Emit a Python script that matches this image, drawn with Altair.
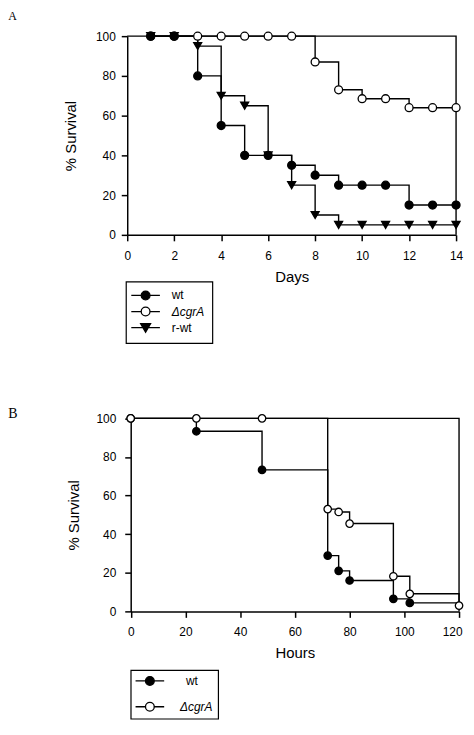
import altair as alt
import pandas as pd

# ---------------- Panel A (days) ----------------
A_days = [1, 2, 3, 4, 5, 6, 7, 8, 9, 10, 11, 12, 13, 14]
A_wt = [100, 100, 80, 55, 40, 40, 35, 30, 25, 25, 25, 15, 15, 15]
A_cgrA = [100, 100, 100, 100, 100, 100, 100, 87, 73, 68.5, 68.5, 64, 64, 64]
A_rwt = [100, 100, 95, 70, 65, 40, 25, 10, 5, 5, 5, 5, 5, 5]
A_series = ["wt", "ΔcgrA", "r-wt"]
A_xticks = [0, 2, 4, 6, 8, 10, 12, 14]
A_frame_x = [0, 14, 14]
A_frame_y = [100, 100, 0]

# ---------------- Panel B (hours) ----------------
B_wt_h = [0, 24, 48, 72, 76, 80, 96, 102]
B_wt = [100, 93.3, 73.3, 28.9, 21, 16, 6.5, 4.4]
B_cgrA_h = [0, 24, 48, 72, 76, 80, 96, 102, 120]
B_cgrA = [100, 100, 100, 53, 51.5, 45.5, 18.2, 9.1, 3]
B_end = 120
B_series = ["wt", "ΔcgrA"]
B_xticks = [0, 20, 40, 60, 80, 100, 120]
B_frame_x = [0, 120, 120]
B_frame_y = [100, 100, 0]

Y_ticks = [0, 20, 40, 60, 80, 100]

FONT = "Liberation Sans"
SERIF = "Liberation Serif"

# legend symbols: a line with the marker on it
CIRC = "M-3.6,0L-1.1,0M1.1,0L3.6,0M1.1,0A1.1,1.1,0,1,1,-1.1,0A1.1,1.1,0,1,1,1.1,0Z"
TRI = "M-3.6,0L3.6,0M-1.25,-1L1.25,-1L0,1.15Z"

# layout (pixels) of the two panels inside one plotting area
W = 331
H_TOTAL = 579
A_YR = [200, 0]
B_YR = [579, 384.7]
A_XR = [0, 331]
B_XR = [3.5, 334]

ptsA = pd.concat([
    pd.DataFrame({"x": A_days, "y": A_cgrA, "series": "ΔcgrA"}),
    pd.DataFrame({"x": A_days, "y": A_wt, "series": "wt"}),
    pd.DataFrame({"x": A_days, "y": A_rwt, "series": "r-wt"}),
], ignore_index=True)
linesA = ptsA.copy()
frameA = pd.DataFrame({"x": A_frame_x, "y": A_frame_y, "i": list(range(len(A_frame_x)))})

ptsB = pd.concat([
    pd.DataFrame({"x": B_wt_h, "y": B_wt, "series": "wt"}),
    pd.DataFrame({"x": B_cgrA_h, "y": B_cgrA, "series": "ΔcgrA"}),
], ignore_index=True)
linesB = pd.concat([
    ptsB,
    pd.DataFrame({"x": [B_end], "y": [B_wt[-1]], "series": ["wt"]}),
], ignore_index=True)
frameB = pd.DataFrame({"x": B_frame_x, "y": B_frame_y, "i": list(range(len(B_frame_x)))})

ITALIC = alt.ExprRef("datum.label === 'ΔcgrA' ? 'italic' : 'normal'")


def panel(pts, lines, frame, xdom, xrange, yrange, xticks, xtitle, xoff, yoff,
          xlaboff, series, shapes, legshapes, fills, legend, ypad, ytpad, size,
          label, lfs, lx, ly):
    X = alt.X("x:Q", scale=alt.Scale(domain=xdom, range=xrange, nice=False, zero=False),
              axis=alt.Axis(values=xticks, format="d", title=xtitle, orient="bottom",
                            offset=xoff, labelPadding=9.5, titlePadding=8,
                            labelFlush=False, labelOffset=xlaboff))
    Y = alt.Y("y:Q", scale=alt.Scale(domain=[0, 100], range=yrange, nice=False),
              axis=alt.Axis(values=Y_ticks, format="d", title="% Survival",
                            orient="left", offset=yoff, labelPadding=ypad,
                            titlePadding=ytpad))
    fr = alt.Chart(frame).mark_line(color="black", strokeWidth=1.4).encode(
        x=X, y=Y, order="i:Q")
    ln = alt.Chart(lines).mark_line(interpolate="step-after", color="black",
                                    strokeWidth=1.4).encode(
        x=X, y=Y, detail="series:N")
    pt = alt.Chart(pts).mark_point(filled=True, size=size, stroke="black",
                                   strokeWidth=1.3, opacity=1).encode(
        x=X, y=Y,
        shape=alt.Shape("series:N", scale=alt.Scale(domain=series, range=shapes),
                        legend=None),
        fill=alt.Fill("series:N", scale=alt.Scale(domain=series, range=fills),
                      legend=None),
    )
    lg = alt.Chart(pts).transform_filter("false").mark_point(
        filled=True, size=64, stroke="black", strokeWidth=1.3, opacity=1).encode(
        x=X, y=Y,
        shape=alt.Shape("series:N", scale=alt.Scale(domain=series, range=legshapes),
                        legend=legend),
        fill=alt.Fill("series:N", scale=alt.Scale(domain=series, range=fills),
                      legend=legend),
    )
    tx = alt.Chart(pd.DataFrame({"t": [label]})).mark_text(
        font=SERIF, fontSize=lfs, align="left", baseline="alphabetic",
        color="black").encode(text="t:N", x=alt.value(lx), y=alt.value(ly))
    return alt.layer(fr, ln, pt, lg, tx).resolve_scale(
        shape="independent", fill="independent")


legA = alt.Legend(
    title=None, orient="none", legendX=-1.3, legendY=247, direction="vertical",
    strokeColor="black", padding=8, symbolSize=64, symbolStrokeWidth=1.3,
    symbolOffset=5.8, labelOffset=20.3, symbolOpacity=1,
    labelFontStyle=ITALIC,
    labelFont=FONT, labelFontSize=12, labelColor="black", rowPadding=2.2,
)

legB = alt.Legend(
    title=None, orient="none", legendX=B_XR[0], legendY=638, direction="vertical",
    strokeColor="black", padding=5, symbolSize=64, symbolStrokeWidth=1.3,
    symbolOffset=8.3,
    labelOffset=alt.ExprRef("datum.label === 'wt' ? 30.3 : 24.3"),
    symbolOpacity=1, labelFontStyle=ITALIC,
    labelFont=FONT, labelFontSize=12, labelColor="black", rowPadding=12,
)

panelA = panel(ptsA, linesA, frameA, [0, 14], A_XR, A_YR, A_xticks, "Days",
               -(H_TOTAL - A_YR[0]), 0, 0, A_series,
               ["circle", "circle", "triangle-down"], [CIRC, CIRC, TRI],
               ["black", "white", "black"], legA, 6, 17, 64,
               "A", 12, -119.7, -16)

panelB = panel(ptsB, linesB, frameB, [0, 120], B_XR, B_YR, B_xticks, "Hours",
               0, -B_XR[0], alt.ExprRef("datum.value === 120 ? -7 : 0"), B_series,
               ["circle", "circle"], [CIRC, CIRC],
               ["black", "white"], legB, 9, 14.4, 56,
               "B", 14, -119.7, B_YR[1])

chart = alt.layer(panelA, panelB).resolve_scale(
    x="independent", y="independent", shape="independent", fill="independent"
).properties(
    width=W, height=H_TOTAL, padding=0,
).configure_view(stroke=None).configure_axis(
    grid=False, domainColor="black", domainWidth=1.5, tickColor="black",
    tickWidth=1.5, tickSize=6, labelFont=FONT, labelFontSize=12,
    labelColor="black", titleFont=FONT, titleFontSize=15,
    titleFontWeight="normal", titleColor="black",
).configure_legend(strokeWidth=1.2)

chart.save("out.html", embed_options={"renderer": "svg", "actions": False})
